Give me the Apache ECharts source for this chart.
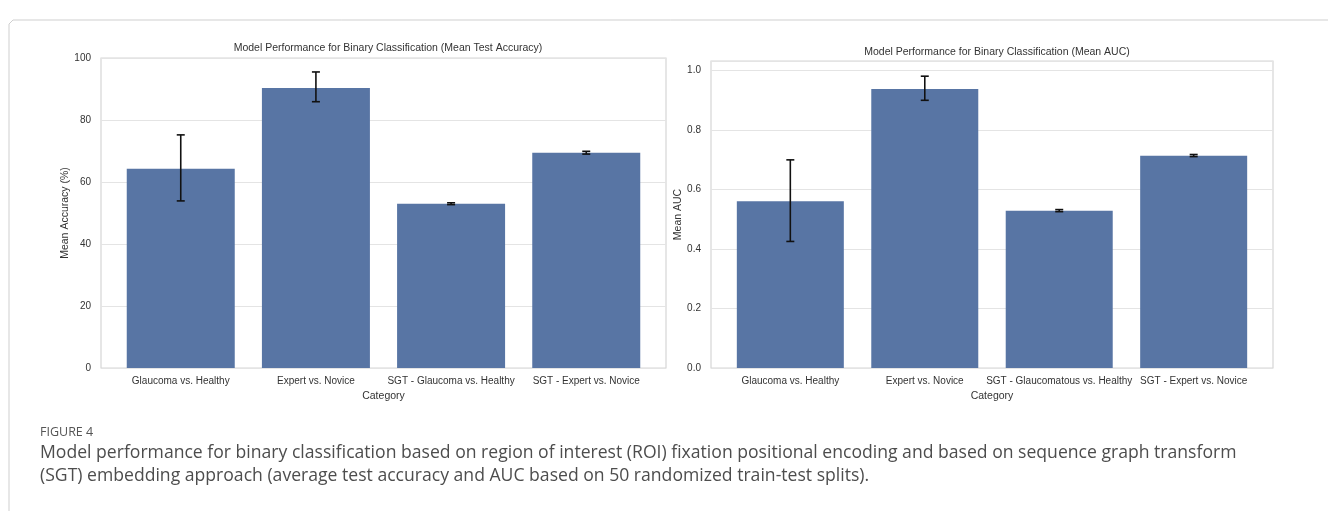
<!DOCTYPE html>
<html>
<head>
<meta charset="utf-8">
<script src="https://cdn.jsdelivr.net/npm/echarts@6/dist/echarts.min.js"></script>
<style>
  html, body { margin: 0; padding: 0; background: #fff; }
  #chart { width: 1328px; height: 511px; }
</style>
</head>
<body>
<div id="chart"></div>
<script>
// categories for each panel
const accCategories = ['Glaucoma vs. Healthy', 'Expert vs. Novice', 'SGT - Glaucoma vs. Healthy', 'SGT - Expert vs. Novice'];
const aucCategories = ['Glaucoma vs. Healthy', 'Expert vs. Novice', 'SGT - Glaucomatous vs. Healthy', 'SGT - Expert vs. Novice'];

// mean test accuracy (%) and error bar ends
const accMean = [64.3, 90.3, 53.0, 69.4];
const accLow = [53.9, 85.9, 52.7, 69.0];
const accHigh = [75.2, 95.5, 53.3, 69.9];

// mean AUC and error bar ends
const aucMean = [0.560, 0.937, 0.528, 0.713];
const aucLow = [0.425, 0.899, 0.525, 0.710];
const aucHigh = [0.699, 0.980, 0.532, 0.717];

const yTicksAcc = [0, 20, 40, 60, 80, 100];
const yTicksAuc = [0, 0.2, 0.4, 0.6, 0.8, 1.0];

const barColor = '#5875a4';
const font = 'Liberation Sans, Arial, sans-serif';

let chart = echarts.init(document.getElementById('chart'));

function errorBars(xIndex, low, high) {
  return {
    type: 'custom',
    xAxisIndex: xIndex,
    yAxisIndex: xIndex,
    silent: true,
    z: 5,
    data: low.map((v, i) => [i, v, high[i]]),
    renderItem: function (params, api) {
      let lo = api.coord([api.value(0), api.value(1)]);
      let hi = api.coord([api.value(0), api.value(2)]);
      let cap = 4;
      let style = { stroke: '#111', lineWidth: 1.6 };
      return {
        type: 'group',
        children: [
          { type: 'line', shape: { x1: lo[0], y1: lo[1], x2: hi[0], y2: hi[1] }, style: style },
          { type: 'line', shape: { x1: lo[0] - cap, y1: lo[1], x2: lo[0] + cap, y2: lo[1] }, style: style },
          { type: 'line', shape: { x1: hi[0] - cap, y1: hi[1], x2: hi[0] + cap, y2: hi[1] }, style: style }
        ]
      };
    }
  };
}

function xAxisFor(gridIndex, cats) {
  return {
    type: 'value',
    gridIndex: gridIndex,
    min: -0.59,
    max: 3.59,
    splitLine: { show: false },
    axisLine: { show: false },
    axisTick: { show: false },
    axisLabel: {
      customValues: [0, 1, 2, 3],
      formatter: v => cats[Math.round(v)],
      color: '#333',
      fontSize: 10,
      fontFamily: font,
      margin: 8
    },
    name: 'Category',
    nameLocation: 'middle',
    nameGap: 21,
    nameTextStyle: { color: '#333', fontSize: 10.5, fontFamily: font }
  };
}

function yAxisFor(gridIndex, max, ticks, name, digits, gap) {
  return {
    type: 'value',
    gridIndex: gridIndex,
    min: 0,
    max: max,
    interval: ticks[1] - ticks[0],
    axisLine: { show: false },
    axisTick: { show: false },
    splitLine: { lineStyle: { color: '#e4e4e4', width: 1.2 } },
    axisLabel: {
      showMaxLabel: max === ticks[ticks.length - 1],
      formatter: v => v.toFixed(digits),
      color: '#333',
      fontSize: 10,
      fontFamily: font,
      margin: 10
    },
    name: name,
    nameLocation: 'middle',
    nameGap: gap,
    nameTextStyle: { color: '#333', fontSize: 10.5, fontFamily: font }
  };
}

chart.setOption({
  animation: false,
  backgroundColor: '#fff',
  title: [
    {
      text: 'Model Performance for Binary Classification (Mean Test Accuracy)',
      left: 383, top: 38, textAlign: 'center',
      textStyle: { color: '#333', fontSize: 10.5, fontWeight: 'normal', fontFamily: font }
    },
    {
      text: 'Model Performance for Binary Classification (Mean AUC)',
      left: 992, top: 42, textAlign: 'center',
      textStyle: { color: '#333', fontSize: 10.5, fontWeight: 'normal', fontFamily: font }
    }
  ],
  grid: [
    { left: 101, top: 58, width: 565, height: 310, show: true, borderColor: '#d6d6d6', borderWidth: 1.2 },
    { left: 711, top: 61, width: 562, height: 307, show: true, borderColor: '#d6d6d6', borderWidth: 1.2 }
  ],
  xAxis: [xAxisFor(0, accCategories), xAxisFor(1, aucCategories)],
  yAxis: [
    yAxisFor(0, 100, yTicksAcc, 'Mean Accuracy (%)', 0, 23),
    yAxisFor(1, 1.031, yTicksAuc, 'Mean AUC', 1, 23)
  ],
  series: [
    {
      type: 'bar',
      xAxisIndex: 0, yAxisIndex: 0,
      barWidth: 108,
      itemStyle: { color: barColor },
      data: accMean.map((v, i) => [i, v])
    },
    errorBars(0, accLow, accHigh),
    {
      type: 'bar',
      xAxisIndex: 1, yAxisIndex: 1,
      barWidth: 107,
      itemStyle: { color: barColor },
      data: aucMean.map((v, i) => [i, v])
    },
    errorBars(1, aucLow, aucHigh)
  ],
  graphic: [
    {
      type: 'polyline',
      shape: { points: [[9, 511], [9, 24], [13, 20], [1328, 20]] },
      style: { stroke: '#cfcfcf', lineWidth: 1, fill: null }
    },
    {
      type: 'text', left: 40, top: 426,
      style: { text: 'FIGURE 4', fill: '#555', font: '12.5px "Open Sans", sans-serif' }
    },
    {
      type: 'text', left: 40, top: 444,
      style: {
        text: 'Model performance for binary classification based on region of interest (ROI) fixation positional encoding and based on sequence graph transform',
        fill: '#4d4d4d', font: '17.6px "Open Sans", sans-serif'
      }
    },
    {
      type: 'text', left: 40, top: 467,
      style: {
        text: '(SGT) embedding approach (average test accuracy and AUC based on 50 randomized train-test splits).',
        fill: '#4d4d4d', font: '17.6px "Open Sans", sans-serif'
      }
    }
  ]
});
</script>
</body>
</html>
